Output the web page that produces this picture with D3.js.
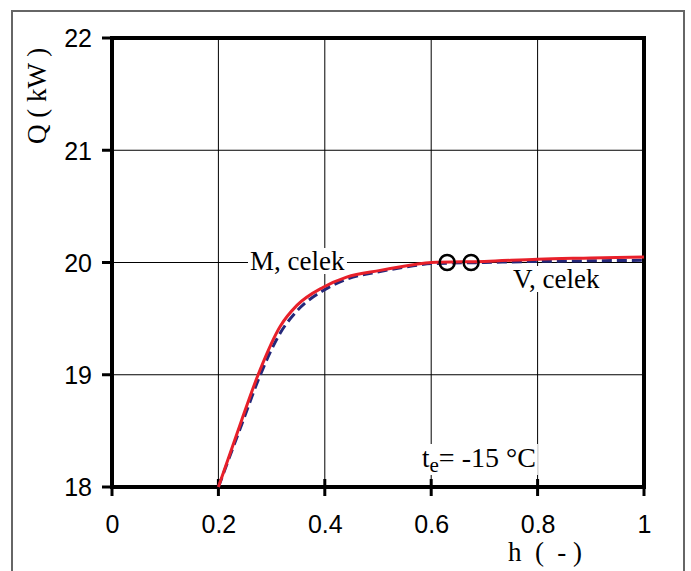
<!DOCTYPE html>
<html>
<head>
<meta charset="utf-8">
<script src="https://cdn.jsdelivr.net/npm/d3@7"></script>
<style>
  body { margin: 0; background: #fff; }
  svg { display: block; }
</style>
</head>
<body>
<svg id="chart" width="691" height="571"></svg>
<script>
// data
let hTicks = [0, 0.2, 0.4, 0.6, 0.8, 1]
let qTicks = [18, 19, 20, 21, 22]
let redH = [0.2, 0.244, 0.278, 0.316, 0.348, 0.397, 0.441, 0.504, 0.566, 0.6, 0.7, 0.8, 0.9, 1.0]
let redQ = [18, 18.6, 19.04, 19.43, 19.62, 19.78, 19.87, 19.93, 19.98, 20.0, 20.01, 20.03, 20.04, 20.05]
let blueH = [0.2, 0.244, 0.278, 0.316, 0.348, 0.397, 0.441, 0.504, 0.566, 0.6, 0.7, 0.8, 0.9, 1.0]
let blueQ = [18, 18.56, 18.99, 19.37, 19.57, 19.75, 19.85, 19.92, 19.97, 19.99, 20.0, 20.01, 20.015, 20.02]
let markH = [0.63, 0.675]
let markQ = [20.0, 20.0]

let pLeft = 112, pRight = 644, pTop = 38, pBottom = 487
let svg = d3.select('#chart')
let x = d3.scaleLinear().domain([0, 1]).range([pLeft, pRight])
let y = d3.scaleLinear().domain([18, 22]).range([pBottom, pTop])

// outer frame (no bottom edge)
svg.append('path')
    .attr('d', 'M12,571 L12,11 L684,11 L684,571')
    .attr('fill', 'none').attr('stroke', '#666').attr('stroke-width', 2)

// grid
let g = svg.append('g')
g.selectAll('.vg').data(hTicks.slice(1, -1)).enter().append('line')
    .attr('x1', d => x(d)).attr('x2', d => x(d)).attr('y1', pTop).attr('y2', pBottom)
    .attr('stroke', '#000').attr('stroke-width', 1)
g.selectAll('.hg').data(qTicks.slice(1, -1)).enter().append('line')
    .attr('y1', d => y(d)).attr('y2', d => y(d)).attr('x1', pLeft).attr('x2', pRight)
    .attr('stroke', '#000').attr('stroke-width', 1)

// labels with white background
let serif = '"Liberation Serif", "Times New Roman", serif'
function boxLabel(tx, ty, fn) {
    let t = svg.append('text').attr('x', tx).attr('y', ty)
        .attr('font-family', serif).attr('font-size', 27).attr('fill', '#000')
    fn(t)
    let b = t.node().getBBox()
    svg.insert('rect', 'text').attr('x', b.x - 2).attr('y', b.y + 2)
        .attr('width', b.width + 4).attr('height', b.height - 4).attr('fill', '#fff')
}
boxLabel(250, 270, t => t.text('M, celek'))
boxLabel(513, 288, t => t.text('V, celek'))
boxLabel(422, 467, t => {
    t.append('tspan').text('t')
    t.append('tspan').attr('font-size', 21).attr('dy', 5).text('e')
    t.append('tspan').attr('dy', -5).attr('font-size', 28).text('= -15 °C')
})

// axes
let axisG = svg.append('g')
axisG.append('g').attr('transform', 'translate(0,' + pBottom + ')')
    .call(d3.axisBottom(x).tickValues(hTicks).tickSize(0).tickFormat(d3.format('')))
    .call(a => a.select('.domain').remove())
    .selectAll('text').attr('dy', 0).attr('y', 46)
axisG.append('g').attr('transform', 'translate(' + pLeft + ',0)')
    .call(d3.axisLeft(y).tickValues(qTicks).tickSize(0).tickFormat(d3.format('d')))
    .call(a => a.select('.domain').remove())
    .selectAll('text').attr('x', -20).attr('dy', '0.35em')
axisG.selectAll('text').attr('font-family', '"Liberation Sans", Arial, sans-serif')
    .attr('font-size', 25).attr('fill', '#000')

// tick marks
svg.selectAll('.xt').data(hTicks).enter().append('line')
    .attr('x1', d => x(d)).attr('x2', d => x(d)).attr('y1', pBottom - 8).attr('y2', pBottom + 9)
    .attr('stroke', '#000').attr('stroke-width', 3)
svg.selectAll('.yt').data(qTicks).enter().append('line')
    .attr('y1', d => y(d)).attr('y2', d => y(d)).attr('x1', pLeft - 10).attr('x2', pLeft)
    .attr('stroke', '#000').attr('stroke-width', 3)

// plot border
svg.append('rect').attr('x', pLeft).attr('y', pTop)
    .attr('width', pRight - pLeft).attr('height', pBottom - pTop)
    .attr('fill', 'none').attr('stroke', '#000').attr('stroke-width', 4)

// curves
let line = d3.line().x(d => x(d[0])).y(d => y(d[1])).curve(d3.curveMonotoneX)
svg.append('path').datum(blueH.map((h, i) => [h, blueQ[i]]))
    .attr('d', line).attr('fill', 'none').attr('stroke', '#24287a')
    .attr('stroke-width', 3).attr('stroke-dasharray', '10,5')
svg.append('path').datum(redH.map((h, i) => [h, redQ[i]]))
    .attr('d', line).attr('fill', 'none').attr('stroke', '#e8202a')
    .attr('stroke-width', 3)
svg.selectAll('.mk').data(markH).enter().append('circle')
    .attr('cx', d => x(d)).attr('cy', (d, i) => y(markQ[i])).attr('r', 7.5)
    .attr('fill', 'none').attr('stroke', '#000').attr('stroke-width', 2.5)

// axis titles
svg.append('text').attr('transform', 'translate(46,96) rotate(-90)')
    .attr('text-anchor', 'middle').attr('font-family', serif).attr('font-size', 27)
    .attr('xml:space', 'preserve').style('white-space', 'pre')
    .text('Q ( kW )')
svg.append('text').attr('x', 545).attr('y', 561).attr('text-anchor', 'middle')
    .attr('font-family', serif).attr('font-size', 27)
    .style('white-space', 'pre')
    .text('h  (  - )')
</script>
</body>
</html>
